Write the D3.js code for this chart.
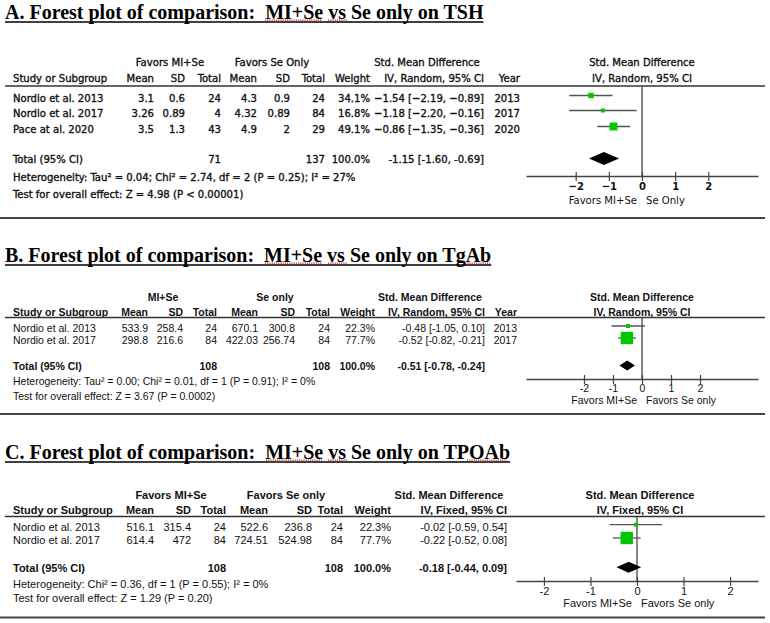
<!DOCTYPE html>
<html>
<head>
<meta charset="utf-8">
<script src="https://cdn.jsdelivr.net/npm/d3@7"></script>
<style>
  body { margin: 0; background: #fff; }
</style>
</head>
<body>
<script>
// ---- Panel A: TSH (random effects) ----
const studiesA = ["Nordio et al. 2013", "Nordio et al. 2017", "Pace at al. 2020"];
const yearsA = [2013, 2017, 2020];
const meanExpA = [3.1, 3.26, 3.5];
const sdExpA = [0.6, 0.89, 1.3];
const nExpA = [24, 4, 43];
const meanCtlA = [4.3, 4.32, 4.9];
const sdCtlA = [0.9, 0.89, 2];
const nCtlA = [24, 84, 29];
const weightA = [34.1, 16.8, 49.1];
const smdA = [-1.54, -1.18, -0.86];
const lowA = [-2.19, -2.20, -1.35];
const highA = [-0.89, -0.16, -0.36];
const totalA = [-1.15, -1.60, -0.69];   // estimate, lower, upper
const totalNA = [71, 137];

// ---- Panel B: TgAb (random effects) ----
const studiesB = ["Nordio et al. 2013", "Nordio et al. 2017"];
const yearsB = [2013, 2017];
const meanExpB = [533.9, 298.8];
const sdExpB = [258.4, 216.6];
const nExpB = [24, 84];
const meanCtlB = [670.1, 422.03];
const sdCtlB = [300.8, 256.74];
const nCtlB = [24, 84];
const weightB = [22.3, 77.7];
const smdB = [-0.48, -0.52];
const lowB = [-1.05, -0.82];
const highB = [0.10, -0.21];
const totalB = [-0.51, -0.78, -0.24];
const totalNB = [108, 108];

// ---- Panel C: TPOAb (fixed effect) ----
const studiesC = ["Nordio et al. 2013", "Nordio et al. 2017"];
const meanExpC = [516.1, 614.4];
const sdExpC = [315.4, 472];
const nExpC = [24, 84];
const meanCtlC = [522.6, 724.51];
const sdCtlC = [236.8, 524.98];
const nCtlC = [24, 84];
const weightC = [22.3, 77.7];
const smdC = [-0.02, -0.22];
const lowC = [-0.59, -0.52];
const highC = [0.54, 0.08];
const totalC = [-0.18, -0.44, 0.09];
const totalNC = [108, 108];

const tickValues = [-2, -1, 0, 1, 2];

const width = 770, height = 623;
const svg = d3.select("body").append("svg")
    .attr("width", width)
    .attr("height", height);

svg.append("rect").attr("width", width).attr("height", height).attr("fill", "#fff");

const serif = "'Liberation Serif','Times New Roman',serif";
const condensed = "'DejaVu Sans Condensed','DejaVu Sans',sans-serif";
const arial = "'Liberation Sans',Arial,sans-serif";

// square side proportional to weight
const boxSize = d3.scaleLinear().domain([0, 100]).range([0, 16]);

const unicodeMinus = s => s.replace(/-/g, "\u2212");
const ciText = (e, l, h) => `${e.toFixed(2)} [${l.toFixed(2)}, ${h.toFixed(2)}]`;

const panels = [
    {
        title: "A. Forest plot of comparison:  MI+Se vs Se only on TSH",
        titleY: 19, squiggles: [[265, 322], [328, 347]],
        font: condensed, fs: 11.2, headWeight: "normal", rowWeight: "normal", hetWeight: "normal",
        heavy: 0.35,
        groupHeads: ["Favors MI+Se", "Favors Se Only", "Std. Mean Difference"], groupX: [170, 272, 427],
        colHeads: ["Mean", "SD", "Total", "Mean", "SD", "Total", "Weight", "IV, Random, 95% CI", "Year"],
        colX: [154, 185, 221, 257, 290, 325, 370, 484, 520],
        head1Y: 65.5, head2Y: 82, lineY: 86,
        rowY: [101.5, 116.5, 132.5], totalY: 163, hetY: 181, testY: 198,
        studies: studiesA, years: yearsA,
        cols: [meanExpA, sdExpA, nExpA, meanCtlA, sdCtlA, nCtlA],
        weight: weightA, smd: smdA, low: lowA, high: highA, total: totalA, totalN: totalNA,
        rowCi: s => unicodeMinus(s), totalCi: s => s,
        het: "Heterogeneity: Tau\u00B2 = 0.04; Chi\u00B2 = 2.74, df = 2 (P = 0.25); I\u00B2 = 27%",
        test: "Test for overall effect: Z = 4.98 (P < 0.00001)",
        plotHead: ["Std. Mean Difference", "IV, Random, 95% CI"], plotCx: 642,
        domain: [-3.5, 3.5], range: [526, 758], axisY: 176, tickY: 190, favorsY: 204,
        favors: ["Favors MI+Se", "Se Only"], tickFmt: d3.format("d"), tickWeight: "bold",
        diamondH: 6.5, sepY: 218
    },
    {
        title: "B. Forest plot of comparison:  MI+Se vs Se only on TgAb",
        titleY: 262, squiggles: [[265, 322], [328, 347], [465, 490]],
        font: arial, fs: 10.5, headWeight: "bold", rowWeight: "normal", hetWeight: "normal",
        heavy: 0,
        groupHeads: ["MI+Se", "Se only", "Std. Mean Difference"], groupX: [163, 275, 430],
        colHeads: ["Mean", "SD", "Total", "Mean", "SD", "Total", "Weight", "IV, Random, 95% CI", "Year"],
        colX: [148, 183, 217, 258, 295, 330, 375, 485, 517],
        head1Y: 301, head2Y: 315.5, lineY: 317.5,
        rowY: [332, 344], totalY: 370, hetY: 385, testY: 400,
        studies: studiesB, years: yearsB,
        cols: [meanExpB, sdExpB, nExpB, meanCtlB, sdCtlB, nCtlB],
        weight: weightB, smd: smdB, low: lowB, high: highB, total: totalB, totalN: totalNB,
        rowCi: s => s, totalCi: s => s,
        het: "Heterogeneity: Tau\u00B2 = 0.00; Chi\u00B2 = 0.01, df = 1 (P = 0.91); I\u00B2 = 0%",
        test: "Test for overall effect: Z = 3.67 (P = 0.0002)",
        plotHead: ["Std. Mean Difference", "IV, Random, 95% CI"], plotCx: 642,
        domain: [-4, 4], range: [526, 758], axisY: 379, tickY: 392, favorsY: 404,
        favors: ["Favors MI+Se", "Favors Se only"], tickFmt: d => String(d), tickWeight: "normal",
        diamondH: 5, sepY: 414
    },
    {
        title: "C. Forest plot of comparison:  MI+Se vs Se only on TPOAb",
        titleY: 459, squiggles: [[266, 322], [328, 347], [467, 507]],
        font: arial, fs: 11, headWeight: "bold", rowWeight: "normal", hetWeight: "normal",
        heavy: 0,
        groupHeads: ["Favors MI+Se", "Favors Se only", "Std. Mean Difference"], groupX: [171, 286, 449],
        colHeads: ["Mean", "SD", "Total", "Mean", "SD", "Total", "Weight", "IV, Fixed, 95% CI"],
        colX: [154, 191, 226, 268, 312, 343, 391, 507],
        head1Y: 499, head2Y: 514, lineY: 516.5,
        rowY: [530.7, 544], totalY: 571.7, hetY: 588, testY: 602,
        studies: studiesC, years: null,
        cols: [meanExpC, sdExpC, nExpC, meanCtlC, sdCtlC, nCtlC],
        weight: weightC, smd: smdC, low: lowC, high: highC, total: totalC, totalN: totalNC,
        rowCi: s => s, totalCi: s => s,
        het: "Heterogeneity: Chi\u00B2 = 0.36, df = 1 (P = 0.55); I\u00B2 = 0%",
        test: "Test for overall effect: Z = 1.29 (P = 0.20)",
        plotHead: ["Std. Mean Difference", "IV, Fixed, 95% CI"], plotCx: 640,
        domain: [-2.6, 2.6], range: [516, 758], axisY: 581, tickY: 595, favorsY: 607,
        favors: ["Favors MI+Se", "Favors Se only"], tickFmt: d => String(d), tickWeight: "normal",
        diamondH: 5.5, sepY: 617.5
    }
];

function drawPanel(p) {
    const g = svg.append("g");

    // Title, underlined, with the red spell-check marks from the source document.
    const title = g.append("text")
        .attr("x", 5).attr("y", p.titleY)
        .attr("font-family", serif).attr("font-weight", "bold").attr("font-size", 20)
        .attr("fill", "#000")
        .style("white-space", "pre")
        .text(p.title);
    const tw = title.node().getComputedTextLength();
    g.append("line")
        .attr("x1", 5).attr("x2", 5 + tw)
        .attr("y1", p.titleY + 3).attr("y2", p.titleY + 3)
        .attr("stroke", "#000").attr("stroke-width", 1.5);
    p.squiggles.forEach(([a, b]) => {
        g.append("line")
            .attr("x1", a).attr("x2", b)
            .attr("y1", p.titleY + 1.2).attr("y2", p.titleY + 1.2)
            .attr("stroke", "#e02020").attr("stroke-width", 1.2)
            .attr("stroke-dasharray", "1.2,1");
    });

    const tab = g.append("g")
        .attr("font-family", p.font)
        .attr("font-size", p.fs)
        .attr("fill", "#111")
        .attr("stroke", p.heavy ? "#111" : null)
        .attr("stroke-width", p.heavy || null);

    // Column headers.
    tab.selectAll(".grp").data(p.groupHeads).join("text")
        .attr("x", (d, i) => p.groupX[i]).attr("y", p.head1Y)
        .attr("text-anchor", "middle").attr("font-weight", p.headWeight)
        .text(d => d);
    tab.append("text").attr("x", 13).attr("y", p.head2Y)
        .attr("font-weight", p.headWeight).text("Study or Subgroup");
    tab.selectAll(".colh").data(p.colHeads).join("text")
        .attr("x", (d, i) => p.colX[i]).attr("y", p.head2Y)
        .attr("text-anchor", "end").attr("font-weight", p.headWeight)
        .text(d => d);

    g.append("line")
        .attr("x1", 5).attr("x2", 765)
        .attr("y1", p.lineY).attr("y2", p.lineY)
        .attr("stroke", "#333").attr("stroke-width", 1.5);

    // Study rows.
    p.studies.forEach((name, i) => {
        const vals = p.cols.map(c => String(c[i]));
        vals.push(p.weight[i].toFixed(1) + "%");
        vals.push(p.rowCi(ciText(p.smd[i], p.low[i], p.high[i])));
        if (p.years) vals.push(String(p.years[i]));
        tab.append("text").attr("x", 13).attr("y", p.rowY[i])
            .attr("font-weight", p.rowWeight).text(name);
        vals.forEach((v, j) => {
            tab.append("text").attr("x", p.colX[j]).attr("y", p.rowY[i])
                .attr("text-anchor", "end").text(v);
        });
    });

    // Total row.
    const totW = p.headWeight;
    tab.append("text").attr("x", 13).attr("y", p.totalY).attr("font-weight", totW).text("Total (95% CI)");
    [[2, String(p.totalN[0])], [5, String(p.totalN[1])], [6, "100.0%"],
     [7, p.totalCi(ciText(p.total[0], p.total[1], p.total[2]))]].forEach(([j, v]) => {
        tab.append("text").attr("x", p.colX[j]).attr("y", p.totalY)
            .attr("text-anchor", "end").attr("font-weight", totW).text(v);
    });
    tab.append("text").attr("x", 13).attr("y", p.hetY).attr("font-weight", p.hetWeight).text(p.het);
    tab.append("text").attr("x", 13).attr("y", p.testY).attr("font-weight", p.hetWeight).text(p.test);

    // Forest plot.
    const x = d3.scaleLinear().domain(p.domain).range(p.range);
    tab.append("text").attr("x", p.plotCx).attr("y", p.head1Y)
        .attr("text-anchor", "middle").attr("font-weight", p.headWeight).text(p.plotHead[0]);
    tab.append("text").attr("x", p.plotCx).attr("y", p.head2Y)
        .attr("text-anchor", "middle").attr("font-weight", p.headWeight).text(p.plotHead[1]);

    g.append("line")
        .attr("x1", x(0)).attr("x2", x(0))
        .attr("y1", p.lineY).attr("y2", p.axisY)
        .attr("stroke", "#444").attr("stroke-width", 1.3);

    const rows = p.studies.map((s, i) => ({
        est: p.smd[i], lo: p.low[i], hi: p.high[i], w: p.weight[i], y: p.rowY[i] - 6
    }));
    g.selectAll(".ci").data(rows).join("line")
        .attr("x1", d => x(d.lo)).attr("x2", d => x(d.hi))
        .attr("y1", d => d.y).attr("y2", d => d.y)
        .attr("stroke", "#555").attr("stroke-width", 1.3);
    g.selectAll(".box").data(rows).join("rect")
        .attr("x", d => x(d.est) - Math.max(4, boxSize(d.w)) / 2)
        .attr("y", d => d.y - Math.max(4, boxSize(d.w)) / 2)
        .attr("width", d => Math.max(4, boxSize(d.w)))
        .attr("height", d => Math.max(4, boxSize(d.w)))
        .attr("fill", "#00c800");

    const dy = p.totalY - 4.5;
    g.append("path")
        .attr("d", `M${x(p.total[1])},${dy}L${x(p.total[0])},${dy - p.diamondH}L${x(p.total[2])},${dy}L${x(p.total[0])},${dy + p.diamondH}Z`)
        .attr("fill", "#000");

    const axis = d3.axisBottom(x)
        .tickValues(tickValues)
        .tickFormat(p.tickFmt)
        .tickSizeInner(9)
        .tickSizeOuter(0);
    const ag = g.append("g").attr("transform", `translate(0,${p.axisY})`).call(axis);
    ag.select(".domain").attr("stroke", "#444").attr("stroke-width", 1.3);
    ag.selectAll(".tick line").attr("y1", -4).attr("y2", 5).attr("stroke", "#444").attr("stroke-width", 1.2);
    ag.selectAll(".tick text")
        .attr("y", p.tickY - p.axisY).attr("dy", 0)
        .attr("font-family", p.font).attr("font-size", p.fs)
        .attr("font-weight", p.tickWeight).attr("fill", "#111");

    tab.append("text").attr("x", x(0) - 5).attr("y", p.favorsY)
        .attr("text-anchor", "end").attr("stroke", "none").text(p.favors[0]);
    tab.append("text").attr("x", x(0) + 4).attr("y", p.favorsY)
        .attr("text-anchor", "start").attr("stroke", "none").text(p.favors[1]);

    // Separator under the panel.
    svg.append("line")
        .attr("x1", 0).attr("x2", 765)
        .attr("y1", p.sepY).attr("y2", p.sepY)
        .attr("stroke", "#444").attr("stroke-width", 2);
}

panels.forEach(drawPanel);
</script>
</body>
</html>
